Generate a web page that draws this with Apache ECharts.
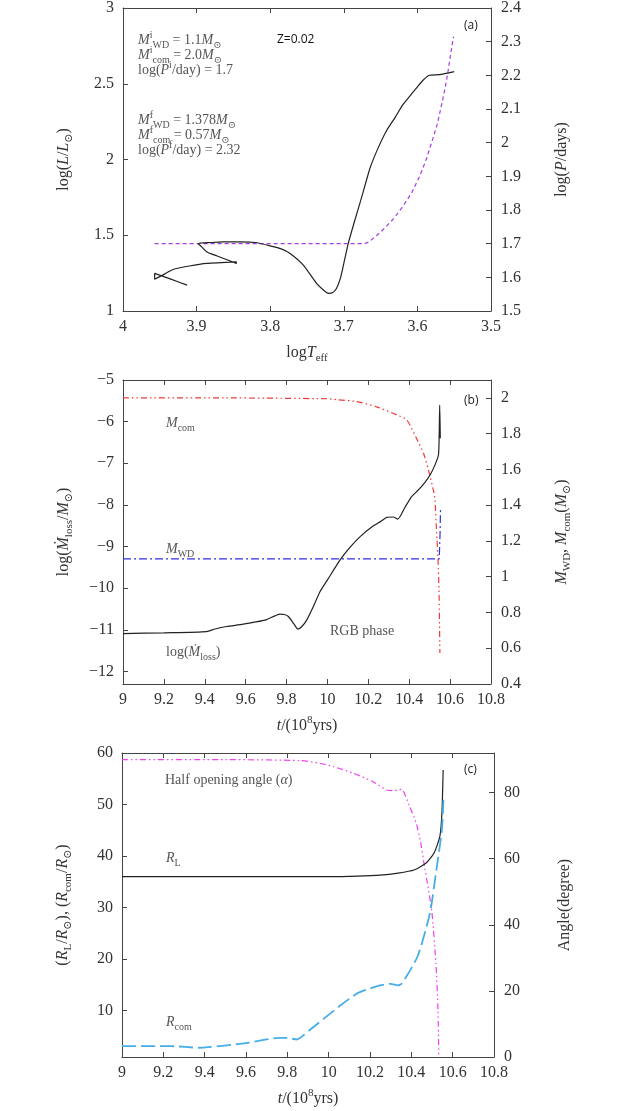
<!DOCTYPE html>
<html>
<head>
<meta charset="utf-8">
<script src="https://cdn.jsdelivr.net/npm/echarts@6/dist/echarts.min.js"></script>
<style>
html, body { margin: 0; padding: 0; background: #fff; }
#chart { width: 623px; height: 1111px; }
</style>
</head>
<body>
<div id="chart"></div>
<script>
// ---- panel (a): HR track and orbital period
var trackT = [3.913, 3.935, 3.957, 3.957, 3.945, 3.932, 3.91, 3.886, 3.846, 3.846, 3.872, 3.886, 3.893, 3.898, 3.88, 3.864, 3.841, 3.82, 3.80, 3.785, 3.773, 3.755, 3.737, 3.727, 3.721, 3.715, 3.710, 3.705, 3.701, 3.694, 3.685, 3.677, 3.670, 3.664, 3.653, 3.642, 3.63, 3.62, 3.61, 3.60, 3.592, 3.584, 3.57, 3.55];
var trackL = [1.171, 1.21, 1.248, 1.209, 1.24, 1.274, 1.297, 1.314, 1.324, 1.314, 1.363, 1.39, 1.423, 1.445, 1.452, 1.456, 1.456, 1.452, 1.43, 1.41, 1.38, 1.303, 1.182, 1.135, 1.116, 1.122, 1.149, 1.21, 1.291, 1.445, 1.599, 1.73, 1.85, 1.949, 2.08, 2.19, 2.28, 2.36, 2.42, 2.48, 2.525, 2.556, 2.56, 2.58];
var periodT = [3.957, 3.9, 3.8, 3.672, 3.666, 3.655, 3.645, 3.632, 3.62, 3.608, 3.597, 3.588, 3.58, 3.573, 3.568, 3.563, 3.559, 3.555, 3.551];
var periodP = [1.70, 1.70, 1.70, 1.70, 1.705, 1.725, 1.745, 1.775, 1.81, 1.85, 1.90, 1.95, 2.005, 2.055, 2.104, 2.155, 2.203, 2.26, 2.315];

// ---- panel (b): mass loss rate and masses
var mdotT = [9.0, 9.2, 9.409, 9.45, 9.507, 9.58, 9.637, 9.70, 9.768, 9.79, 9.809, 9.835, 9.855, 9.875, 9.899, 9.93, 9.964, 10.0, 10.062, 10.11, 10.16, 10.22, 10.26, 10.29, 10.322, 10.344, 10.38, 10.412, 10.445, 10.475, 10.502, 10.525, 10.543, 10.547, 10.549, 10.551, 10.552];
var mdot = [-11.09, -11.07, -11.04, -10.98, -10.92, -10.87, -10.82, -10.76, -10.62, -10.63, -10.68, -10.85, -10.98, -10.92, -10.76, -10.45, -10.08, -9.8, -9.32, -9.02, -8.76, -8.52, -8.40, -8.30, -8.29, -8.34, -8.05, -7.80, -7.64, -7.47, -7.28, -7.05, -6.80, -6.2, -5.6, -6.1, -6.4];
var mcomT = [9.0, 9.5, 10.0, 10.045, 10.14, 10.24, 10.339, 10.388, 10.437, 10.47, 10.494, 10.524, 10.534, 10.541, 10.546, 10.55];
var mcom = [2.0, 2.0, 1.995, 1.99, 1.98, 1.95, 1.905, 1.877, 1.77, 1.69, 1.597, 1.448, 1.245, 1.094, 0.909, 0.573];
var mwdT = [9.0, 10.547, 10.551, 10.553];
var mwd = [1.1, 1.1, 1.25, 1.378];

// ---- panel (c): radii and half opening angle
var rlT = [9.0, 9.5, 10.0, 10.14, 10.25, 10.336, 10.413, 10.47, 10.51, 10.538, 10.548, 10.554];
var rl = [36.0, 36.0, 36.0, 36.1, 36.3, 36.7, 37.3, 38.6, 40.6, 43.8, 48.3, 56.7];
var rcomT = [9.0, 9.24, 9.37, 9.6, 9.76, 9.80, 9.845, 9.91, 10.05, 10.14, 10.2, 10.26, 10.30, 10.336, 10.355, 10.43, 10.49, 10.519, 10.548, 10.556];
var rcom = [3.1, 3.1, 2.8, 3.7, 4.7, 4.7, 4.4, 6.3, 10.8, 13.4, 14.3, 15.0, 15.2, 14.9, 15.3, 20.5, 28.9, 36.7, 45.1, 51.5];
var angleT = [9.0, 9.5, 9.861, 9.957, 10.022, 10.118, 10.215, 10.28, 10.311, 10.352, 10.392, 10.424, 10.445, 10.461, 10.482, 10.50, 10.519, 10.529, 10.533];
var angle = [90, 90, 89.7, 88.9, 87.9, 85.9, 83.3, 80.8, 80.6, 81.0, 75.8, 70.7, 65, 58.7, 51, 43.6, 28.4, 14.2, 0];

// tick labels
var ticksB = [-12, -11, -10, -9, -8, -7, -6, -5];
var ticksB2 = [0.4, 0.6, 0.8, 1.0, 1.2, 1.4, 1.6, 1.8, 2.0];
var ticksC = [10, 20, 30, 40, 50, 60];
var ticksC2 = [0, 20, 40, 60, 80];

var notesA = [
  '{it|M}{sup|i}{sub|WD} = 1.1{it|M}{sub|⊙}',
  '{it|M}{sup|i}{sub|com} = 2.0{it|M}{sub|⊙}',
  'log({it|P}{sup|i}/day) = 1.7',
  '{it|M}{sup|f}{sub|WD} = 1.378{it|M}{sub|⊙}',
  '{it|M}{sup|f}{sub|com} = 0.57{it|M}{sub|⊙}',
  'log({it|P}{sup|f}/day) = 2.32'
];

var SERIF = "'Liberation Serif', 'DejaVu Serif', serif";
var SANS = "'Open Sans', 'DejaVu Sans', sans-serif";
var AX = '#444';

function pairs(xs, ys) {
  return xs.map(function (x, i) { return [x, ys[i]]; });
}
function fmt(v) {
  var s = String(Math.round(v * 10) / 10);
  return s.replace('-', '\u2212');
}
function mkRich(size) {
  return {
    it: { fontStyle: 'italic', fontFamily: SERIF, fontSize: size, lineHeight: size + 6 },
    sub: { fontFamily: SERIF, fontSize: Math.round(size * 0.68), lineHeight: Math.round(size * 0.68), verticalAlign: 'bottom' },
    sup: { fontFamily: SERIF, fontSize: Math.round(size * 0.68), lineHeight: Math.round(size * 0.68), verticalAlign: 'top' }
  };
}
var nameStyle = { fontFamily: SERIF, fontSize: 16, color: '#333', lineHeight: 22, rich: mkRich(16) };
var labelStyle = { fontFamily: SERIF, fontSize: 16, color: '#333' };

function xAxisPair(grid, min, max, interval, inverse, name) {
  var bottom = {
    type: 'value', gridIndex: grid, min: min, max: max, interval: interval, inverse: inverse,
    position: 'bottom', name: name, nameLocation: 'middle', nameGap: 31, nameTextStyle: nameStyle,
    axisLine: { lineStyle: { color: AX } },
    axisTick: { inside: true, length: 5, lineStyle: { color: AX } },
    axisLabel: Object.assign({ margin: 8, formatter: fmt }, labelStyle),
    splitLine: { show: false }
  };
  var top = {
    type: 'value', gridIndex: grid, min: min, max: max, interval: interval, inverse: inverse,
    position: 'top',
    axisLine: { lineStyle: { color: AX } },
    axisTick: { inside: true, length: 5, lineStyle: { color: AX } },
    axisLabel: { show: false },
    splitLine: { show: false }
  };
  return [bottom, top];
}
function yAxis(grid, side, min, max, interval, custom, name, gap) {
  var ax = {
    type: 'value', gridIndex: grid, position: side, min: min, max: max,
    name: name, nameLocation: 'middle', nameRotate: 90, nameGap: gap, nameTextStyle: nameStyle,
    axisLine: { show: true, lineStyle: { color: AX } },
    axisTick: { show: true, inside: true, length: 5, lineStyle: { color: AX } },
    axisLabel: Object.assign({ margin: side === 'left' ? 9 : 10, formatter: fmt }, labelStyle),
    splitLine: { show: false }
  };
  if (interval) ax.interval = interval;
  if (custom) {
    ax.axisLabel.customValues = custom;
    ax.axisTick.customValues = custom;
  }
  return ax;
}
function line(xi, yi, xs, ys, color, type, width, smooth) {
  return {
    type: 'line', xAxisIndex: xi, yAxisIndex: yi, data: pairs(xs, ys),
    showSymbol: false, symbol: 'none', smooth: smooth, z: 3,
    lineStyle: { color: color, width: width, type: type }
  };
}
function note(x, y, text, size, family, color) {
  return {
    type: 'text', x: x, y: y, z: 10,
    style: {
      text: text, fontFamily: family, fontSize: size, fill: color,
      verticalAlign: 'middle', lineHeight: size + 6, rich: mkRich(size)
    }
  };
}

var myChart = echarts.init(document.getElementById('chart'));

var xAxes = []
  .concat(xAxisPair(0, 3.5, 4, 0.1, true, 'log{it|T}{sub|eff}'))
  .concat(xAxisPair(1, 9, 10.8, 0.2, false, '{it|t}/(10{sup|8}yrs)'))
  .concat(xAxisPair(2, 9, 10.8, 0.2, false, '{it|t}/(10{sup|8}yrs)'));

var yAxes = [
  yAxis(0, 'left', 1, 3, 0.5, null, 'log({it|L}/{it|L}{sub|⊙})', 48),
  yAxis(0, 'right', 1.5, 2.4, 0.1, null, 'log({it|P}/days)', 60),
  yAxis(1, 'left', -12.3, -5, null, ticksB, 'log({it|Ṁ}{sub|loss}/{it|M}{sub|⊙})', 48),
  yAxis(1, 'right', 0.4, 2.1, null, ticksB2, '{it|M}{sub|WD}, {it|M}{sub|com}({it|M}{sub|⊙})', 60),
  yAxis(2, 'left', 1, 60, null, ticksC, '({it|R}{sub|L}/{it|R}{sub|⊙}), ({it|R}{sub|com}/{it|R}{sub|⊙})', 48),
  yAxis(2, 'right', 0, 92, null, ticksC2, 'Angle(degree)', 60)
];

var graphics = [];
var noteY = [40, 55, 70, 120, 135, 150];
notesA.forEach(function (t, i) {
  graphics.push(note(138, noteY[i], t, 14, SERIF, '#555'));
});
graphics.push(note(277, 40, 'Z=0.02', 12, SANS, '#111'));
graphics.push(note(464, 26, '(a)', 12, SANS, '#222'));
graphics.push(note(464, 401, '(b)', 12, SANS, '#222'));
graphics.push(note(464, 770, '(c)', 12, SANS, '#222'));
graphics.push(note(166, 423, '{it|M}{sub|com}', 14, SERIF, '#555'));
graphics.push(note(166, 549, '{it|M}{sub|WD}', 14, SERIF, '#555'));
graphics.push(note(330, 631, 'RGB phase', 14, SERIF, '#555'));
graphics.push(note(166, 652, 'log({it|Ṁ}{sub|loss})', 14, SERIF, '#555'));
graphics.push(note(165, 780, 'Half opening angle ({it|α})', 14, SERIF, '#555'));
graphics.push(note(166, 858, '{it|R}{sub|L}', 14, SERIF, '#555'));
graphics.push(note(166, 1022, '{it|R}{sub|com}', 14, SERIF, '#555'));

var option = {
  animation: false,
  backgroundColor: '#fff',
  grid: [
    { left: 123, top: 7, width: 368, height: 304 },
    { left: 123, top: 380, width: 368, height: 304 },
    { left: 122, top: 753, width: 372, height: 304 }
  ],
  xAxis: xAxes,
  yAxis: yAxes,
  graphic: graphics,
  series: [
    line(0, 1, periodT, periodP, '#a63ee8', [4, 3], 1.2, false),
    line(0, 0, trackT, trackL, '#222', 'solid', 1.2, 0.2),
    line(2, 3, mcomT, mcom, '#f03a3a', [6, 3, 1.5, 3, 1.5, 3], 1.2, 0.2),
    line(2, 3, mwdT, mwd, '#3030e8', [8, 3, 2, 3], 1.2, false),
    line(2, 2, mdotT, mdot, '#222', 'solid', 1.2, 0.2),
    line(4, 5, angleT, angle, '#f040f0', [6, 3, 1.5, 3, 1.5, 3], 1.2, 0.2),
    line(4, 4, rlT, rl, '#222', 'solid', 1.2, 0.2),
    line(4, 4, rcomT, rcom, '#45aee8', [14, 5], 1.8, 0.2)
  ]
};
myChart.setOption(option);
</script>
</body>
</html>
